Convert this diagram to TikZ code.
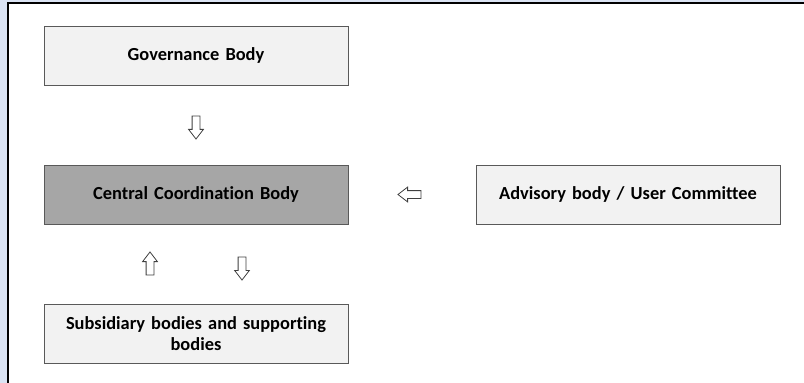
\documentclass[tikz,border=0pt]{standalone}
\usepackage{fontspec}
\setmainfont{Carlito}[Ligatures=NoCommon]
\usetikzlibrary{shapes.arrows,calc}
\definecolor{panelblue}{RGB}{218,227,243}
\definecolor{lightbox}{RGB}{242,242,242}
\definecolor{darkbox}{RGB}{166,166,166}
\definecolor{edgegrey}{RGB}{89,89,89}

\begin{document}
\begin{tikzpicture}
[x=1pt,y=-1pt,
body/.style={draw=edgegrey,line width=1pt,fill=lightbox,minimum width=304pt,minimum height=59pt,inner sep=4pt,text width=290pt,align=center,font=\fontsize{18.4}{20.5}\selectfont\bfseries},
blockarrow/.style={single arrow,draw=black!75,fill=white,line width=.8pt,inner sep=3.5pt,minimum height=23pt,single arrow head extend=3.5pt,single arrow tip angle=75}]
\useasboundingbox (0,0) rectangle (804,383);
% panel
\fill[panelblue] (0,0) rectangle (804,383);
\fill[white] (8,3) rectangle (804,383);
\draw[line width=1.2pt] (8,383) -- (8,3) -- (804,3);
% bodies
\node[body] (gov) at (196,55.5) {Governance Body};
\node[body,fill=darkbox] (central) at (196,194.5) {Central Coordination Body};
\node[body] (advisory) at (628,194.5) {Advisory body / User Committee};
\node[body] (subsidiary) at (196,333.5) {Subsidiary bodies and supporting\\bodies};
% arrows
\node[blockarrow,rotate=-90] (gov2central) at ($(gov.south)!.5!(central.north)$) {};
\node[blockarrow,rotate=180] (adv2central) at ($(central.east)!.5!(advisory.west)$) {};
\node[blockarrow,rotate=90] (sub2central) at ($(central.south)!.5!(subsidiary.north)+(-46,2)$) {};
\node[blockarrow,rotate=-90] (central2sub) at ($(central.south)!.5!(subsidiary.north)+(46,2)$) {};
\end{tikzpicture}
\end{document}
